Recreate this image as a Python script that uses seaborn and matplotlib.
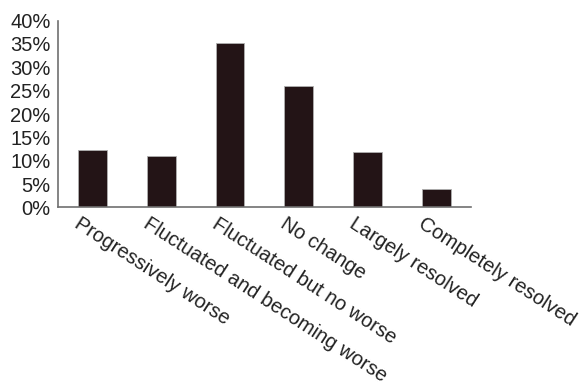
import matplotlib
matplotlib.use("Agg")
import matplotlib.pyplot as plt
import matplotlib.transforms as mtransforms
import seaborn as sns
import pandas as pd

categories = ["Progressively worse", "Fluctuated and becoming worse",
              "Fluctuated but no worse", "No change", "Largely resolved",
              "Completely resolved"]
percent = [12.3, 11.1, 35.2, 26.0, 11.9, 3.9]
yticks = [0, 5, 10, 15, 20, 25, 30, 35, 40]

df = pd.DataFrame({"category": categories, "percent": percent})

sns.set_style("white")
plt.rcParams["font.family"] = ["Liberation Sans", "DejaVu Sans"]

fig = plt.figure(figsize=(5.82, 3.82), dpi=100)
ax = fig.add_axes([0.0997, 0.457, 0.709, 0.489])

sns.barplot(data=df, x="category", y="percent", color="#231416", width=0.42,
            edgecolor="#b0b0b0", linewidth=0.6, saturation=1, ax=ax)

ax.set_ylim(0, 40)
ax.set_xlim(-0.5, len(categories) - 0.5)
ax.set_yticks(yticks)
ax.set_yticklabels([f"{v}%" for v in yticks], fontsize=14.5, color="#222222")
ax.set_xlabel("")
ax.set_ylabel("")

# category boundaries carry the tick marks
ax.set_xticks([i - 0.5 for i in range(len(categories) + 1)], minor=True)
ax.tick_params(axis="x", which="major", length=0, pad=5)
ax.tick_params(axis="x", which="minor", length=4, direction="out", color="#707070", width=1)
ax.tick_params(axis="y", length=5, direction="inout", color="#707070", width=1, pad=3)
ax.set_xticklabels(categories, rotation=-33, ha="left", va="top",
                   rotation_mode="anchor", fontsize=14.5, color="#222222")
offset = mtransforms.ScaledTranslation(-11 / 100, 0, fig.dpi_scale_trans)
for lbl in ax.get_xticklabels():
    lbl.set_transform(lbl.get_transform() + offset)

for side in ["top", "right"]:
    ax.spines[side].set_visible(False)
for side in ["left", "bottom"]:
    ax.spines[side].set_color("#707070")
    ax.spines[side].set_linewidth(1.2)

fig.savefig("out.png", dpi=100)
